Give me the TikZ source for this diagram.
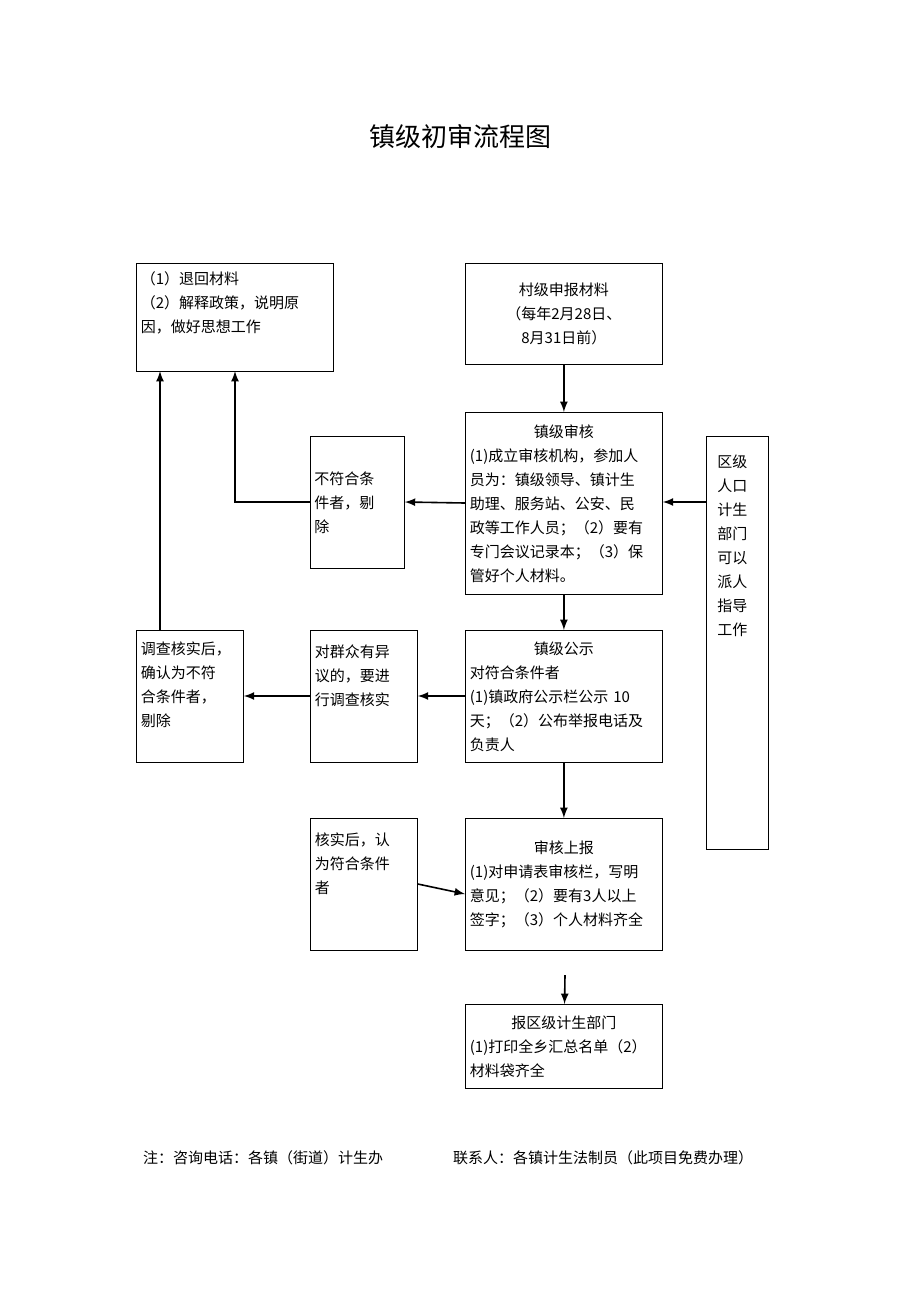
\documentclass[tikz,border=0pt]{standalone}
\usepackage{fontspec}
\setmainfont{Noto Sans CJK SC}
\newcommand{\hd}[1]{\makebox[\linewidth]{#1}}
\newcommand{\pad}[1]{\\\rule{0pt}{#1}}

\begin{document}
\begin{tikzpicture}[x=0.5pt,y=-0.5pt,
    box/.style={draw, rectangle, anchor=north west, inner sep=2pt, align=left,
        font=\fontsize{7.5}{12}\selectfont},
    arr/.style={-latex, thick}]
    \useasboundingbox (0,0) rectangle (920,1302);

    % title
    \node[font=\fontsize{13}{15}\selectfont] (title) at (460,137) {镇级初审流程图};

    % right column
    \node[box, minimum width=98.5pt, minimum height=50.5pt, align=center] (apply) at (465,263)
        {村级申报材料\\（每年2月28日、\\8月31日前）};
    \node[box, minimum width=98.5pt, minimum height=91pt, text width=94pt] (check) at (465,412)
        {\hd{镇级审核}\\(1)成立审核机构，参加人\\员为：镇级领导、镇计生\\助理、服务站、公安、民\\政等工作人员；（2）要有\\专门会议记录本；（3）保\\管好个人材料。};
    \node[box, minimum width=98.5pt, minimum height=66pt, text width=94pt] (notice) at (465,630)
        {\hd{镇级公示}\\对符合条件者\\(1)镇政府公示栏公示 10\\天；（2）公布举报电话及\\负责人};
    \node[box, minimum width=98.5pt, minimum height=66pt, text width=94pt] (report) at (465,818)
        {\hd{审核上报}\\(1)对申请表审核栏，写明\\意见；（2）要有3人以上\\签字；（3）个人材料齐全\\[10pt]};
    \node[box, minimum width=98.5pt, minimum height=42pt, text width=94pt] (district) at (465,1004)
        {\hd{报区级计生部门}\\(1)打印全乡汇总名单（2）\\材料袋齐全};
    \node[box, minimum width=31pt, minimum height=206.5pt, text width=20pt] (guide) at (706,436)
        {区级\\人口\\计生\\部门\\可以\\派人\\指导\\工作\pad{96pt}};

    % middle column
    \node[box, minimum width=47pt, minimum height=66pt, text width=43pt] (reject) at (310,436)
        {不符合条\\件者，剔\\除\\[12pt]};
    \node[box, minimum width=53.5pt, minimum height=66pt, text width=49pt] (doubt) at (310,630)
        {对群众有异\\议的，要进\\行调查核实\pad{20pt}};
    \node[box, minimum width=53.5pt, minimum height=66pt, text width=49pt] (okay) at (310,818)
        {核实后，认\\为符合条件\\者\pad{20pt}};

    % left column
    \node[box, minimum width=98.5pt, minimum height=54pt, text width=94pt] (back) at (136,263)
        {（1）退回材料\\（2）解释政策，说明原\\因，做好思想工作\pad{14pt}};
    \node[box, minimum width=53.5pt, minimum height=66pt, text width=49pt] (verify) at (136,630)
        {调查核实后，\\确认为不符\\合条件者，\\剔除\pad{8pt}};

    % footer
    \node[anchor=west, font=\fontsize{7.5}{9}\selectfont] (note) at (136,1158) {注：咨询电话：各镇（街道）计生办};
    \node[anchor=west, font=\fontsize{7.5}{9}\selectfont] (contact) at (446,1158) {联系人：各镇计生法制员（此项目免费办理）};

    \coordinate (free) at (565,975);

    % connectors
    \draw[arr] (apply) -- (check);
    \draw[arr] (check.west |- 0,503) -- (reject.east |- 0,502);
    \draw[arr] (guide.west |- 0,502) -- (check.east |- 0,502);
    \draw[arr] (reject.west |- 0,502) -| (235,371);
    \draw[arr] (check) -- (notice);
    \draw[arr] (notice.west |- 0,696) -- (doubt.east |- 0,696);
    \draw[arr] (doubt.west |- 0,696) -- (verify.east |- 0,696);
    \draw[arr] (verify.north -| 160,0) -- (160,371);
    \draw[arr] (notice) -- (report);
    \draw[arr] (okay.east |- 0,884) -- (report.west |- 0,894);
    \draw[arr] (free) -- (district);
\end{tikzpicture}
\end{document}
